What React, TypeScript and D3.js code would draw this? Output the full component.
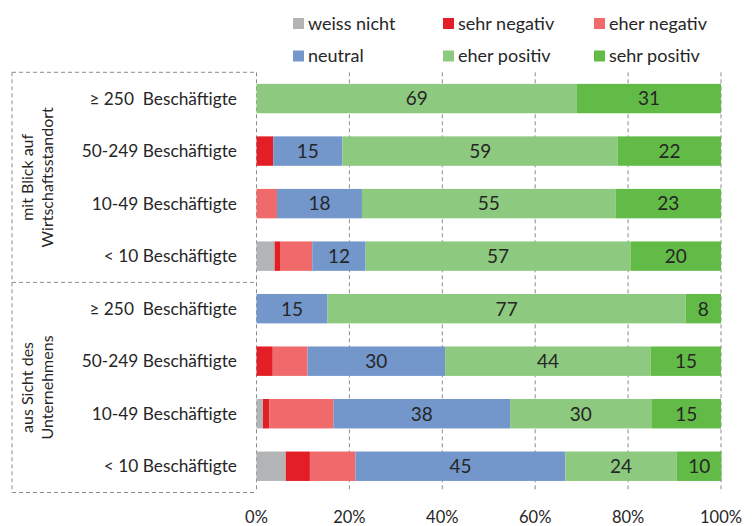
import { useEffect, useRef } from "react";
import * as d3 from "d3";

const series = ["weiss nicht", "sehr negativ", "eher negativ", "neutral", "eher positiv", "sehr positiv"];
const colors = ["#b2b4b5", "#e41e26", "#f0696b", "#7396cb", "#8dca7f", "#63bb47"];
const labelled = ["neutral", "eher positiv", "sehr positiv"];

const rowLabels = [
  "≥ 250  Beschäftigte",
  "50-249 Beschäftigte",
  "10-49 Beschäftigte",
  "< 10 Beschäftigte",
  "≥ 250  Beschäftigte",
  "50-249 Beschäftigte",
  "10-49 Beschäftigte",
  "< 10 Beschäftigte",
];

const groups = [
  ["mit Blick auf", "Wirtschaftsstandort"],
  ["aus Sicht des", "Unternehmens"],
];

// one array per answer category, one value per row (percent)
const weissNicht = [0, 0, 0, 3.9, 0, 0, 1.4, 6.3];
const sehrNegativ = [0, 3.6, 0, 1.3, 0, 3.5, 1.4, 5.2];
const eherNegativ = [0, 0, 4.4, 6.8, 0, 7.5, 13.8, 9.8];
const neutral = [0, 14.9, 18.3, 11.5, 15.3, 29.6, 38, 45.2];
const eherPositiv = [69, 59.3, 54.6, 57, 77.1, 44.3, 30.4, 24];
const sehrPositiv = [31, 22.2, 22.7, 19.5, 7.6, 15.1, 15, 9.6];

const ticks = [0, 20, 40, 60, 80, 100];

const values = [weissNicht, sehrNegativ, eherNegativ, neutral, eherPositiv, sehrPositiv];

export default function App() {
  const ref = useRef<SVGSVGElement>(null);

  useEffect(() => {
    if (!ref.current) return;
    const svg = d3.select(ref.current);
    svg.selectAll("*").remove();
    const font = "Lato, 'Open Sans', sans-serif";
    const textColor = "#262626";

    const x = d3.scaleLinear().domain([0, 100]).range([256.5, 721]);
    const top = 72.3;
    const bottom = 492.5;
    const mid = (top + bottom) / 2;
    const y = d3
      .scaleBand<number>()
      .domain(d3.range(rowLabels.length))
      .range([top, bottom])
      .paddingInner(0.44)
      .paddingOuter(0.22);

    // gridlines
    svg
      .append("g")
      .selectAll("line")
      .data(ticks)
      .enter()
      .append("line")
      .attr("x1", (d) => x(d))
      .attr("x2", (d) => x(d))
      .attr("y1", top)
      .attr("y2", bottom)
      .attr("stroke", "#8c8c8c")
      .attr("stroke-width", 1)
      .attr("stroke-dasharray", "4,3");

    // left frame
    const frame = svg.append("g").attr("stroke", "#8c8c8c").attr("stroke-dasharray", "4,3").attr("fill", "none");
    [top, mid, bottom].forEach((yy) => {
      frame.append("line").attr("x1", 12).attr("x2", x(0)).attr("y1", yy).attr("y2", yy);
    });
    frame.append("line").attr("x1", 12).attr("x2", 12).attr("y1", top).attr("y2", bottom);

    // stacked bars
    const stacked = rowLabels.map((_, i) => {
      let acc = 0;
      return series.map((s, k) => {
        const v = values[k][i];
        const seg = { key: s, color: colors[k], x0: acc, x1: acc + v, v };
        acc += v;
        return seg;
      });
    });

    const rows = svg
      .append("g")
      .selectAll("g.row")
      .data(stacked)
      .enter()
      .append("g")
      .attr("class", "row")
      .attr("transform", (_d, i) => `translate(0,${y(i)})`);

    rows
      .selectAll("rect")
      .data((d) => d.filter((s) => s.v > 0))
      .enter()
      .append("rect")
      .attr("x", (d) => x(d.x0))
      .attr("width", (d) => x(d.x1) - x(d.x0))
      .attr("y", 0)
      .attr("height", y.bandwidth())
      .attr("fill", (d) => d.color);

    rows
      .selectAll("text")
      .data((d) => d.filter((s) => labelled.includes(s.key) && s.v > 0))
      .enter()
      .append("text")
      .attr("x", (d) => (x(d.x0) + x(d.x1)) / 2)
      .attr("y", y.bandwidth() / 2)
      .attr("dy", "0.36em")
      .attr("text-anchor", "middle")
      .attr("font-family", font)
      .attr("font-size", 19)
      .attr("fill", textColor)
      .text((d) => Math.round(d.v));

    // row labels
    svg
      .append("g")
      .selectAll("text")
      .data(rowLabels)
      .enter()
      .append("text")
      .attr("x", 237)
      .attr("y", (_d, i) => (y(i) as number) + y.bandwidth() / 2)
      .attr("dy", "0.36em")
      .attr("text-anchor", "end")
      .attr("font-family", font)
      .attr("font-size", 17.3)
      .attr("fill", textColor)
      .style("white-space", "pre")
      .text((d) => d);

    // group labels (rotated)
    groups.forEach((lines, gi) => {
      const cy = gi === 0 ? (top + mid) / 2 : (mid + bottom) / 2;
      const t = svg
        .append("text")
        .attr("transform", `translate(0,${cy}) rotate(-90)`)
        .attr("text-anchor", "middle")
        .attr("font-family", font)
        .attr("font-size", 16)
        .attr("fill", textColor);
      lines.forEach((l, li) => {
        t.append("tspan").attr("x", 0).attr("y", 33 + li * 20).text(l);
      });
    });

    // x axis labels
    svg
      .append("g")
      .selectAll("text")
      .data(ticks)
      .enter()
      .append("text")
      .attr("x", (d) => x(d))
      .attr("y", 517)
      .attr("dy", "0.36em")
      .attr("text-anchor", "middle")
      .attr("font-family", font)
      .attr("font-size", 16.5)
      .attr("fill", textColor)
      .text((d) => `${d}%`);

    // legend
    const legendX = [293, 443, 594];
    const legendY = [23.5, 56];
    const legend = svg
      .append("g")
      .selectAll("g")
      .data(series)
      .enter()
      .append("g")
      .attr("transform", (_d, i) => `translate(${legendX[i % 3]},${legendY[Math.floor(i / 3)]})`);
    legend
      .append("rect")
      .attr("x", 0)
      .attr("y", -5.5)
      .attr("width", 11)
      .attr("height", 11)
      .attr("fill", (_d, i) => colors[i]);
    legend
      .append("text")
      .attr("x", 15)
      .attr("y", 0)
      .attr("dy", "0.36em")
      .attr("font-family", font)
      .attr("font-size", 18)
      .attr("fill", textColor)
      .text((d) => d);
  }, []);

  return (
    <div style={{ position: "fixed", left: 0, top: 0, width: 753, height: 526, overflow: "hidden" }}>
      <svg ref={ref} width={753} height={526} style={{ display: "block", background: "#fff" }} />
    </div>
  );
}
